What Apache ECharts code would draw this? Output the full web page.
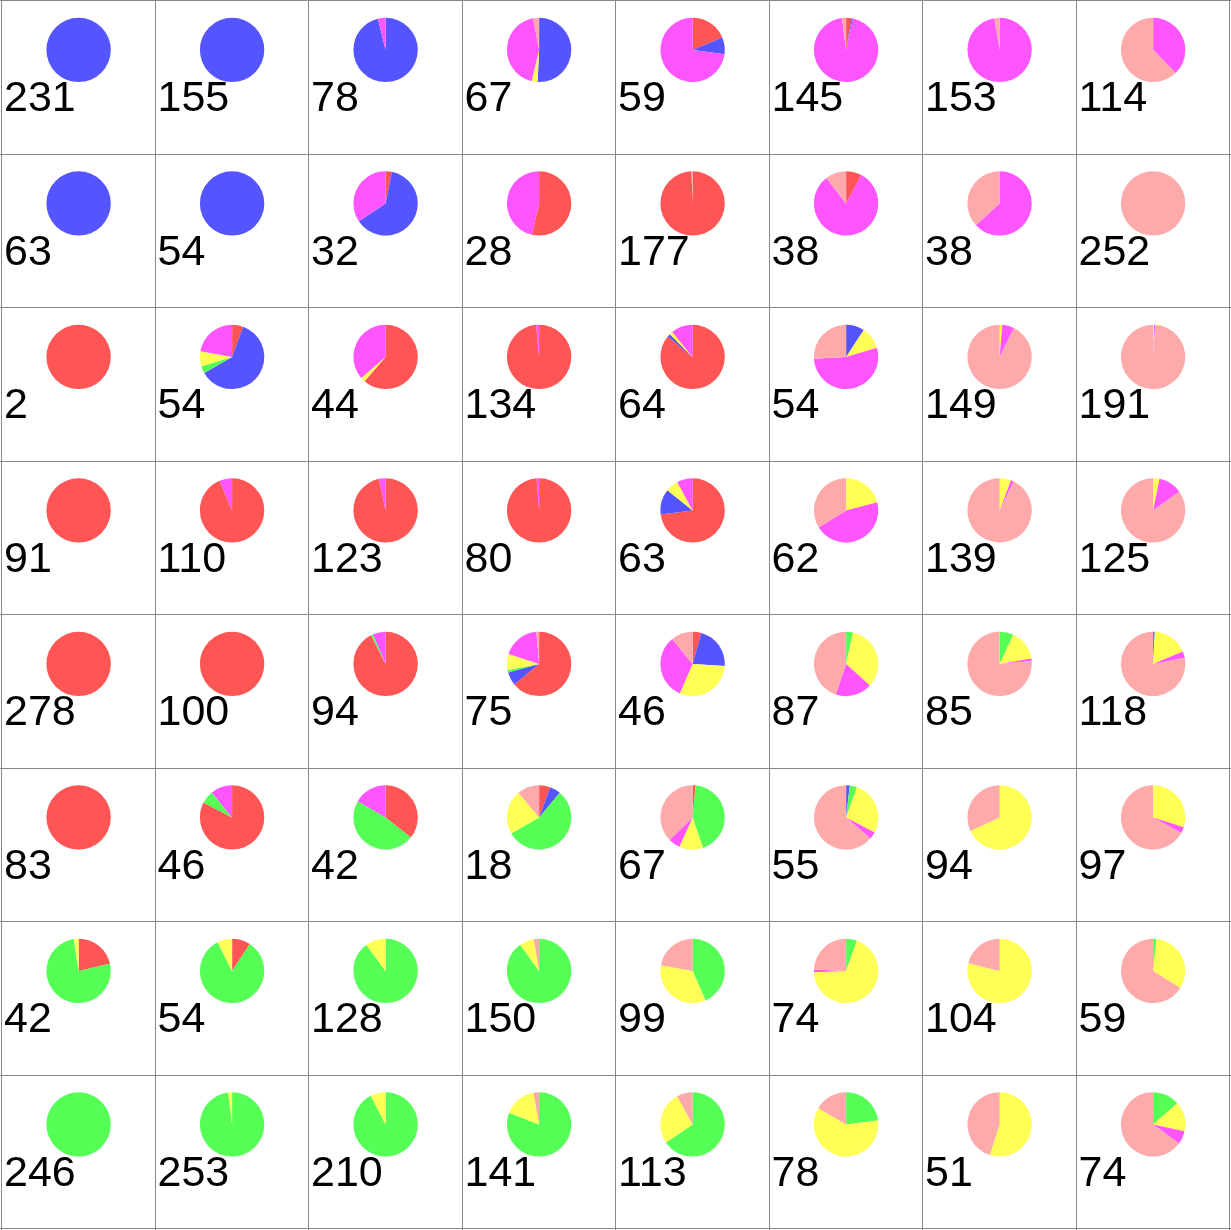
<!DOCTYPE html>
<html>
<head>
<meta charset="utf-8">
<script src="https://cdn.jsdelivr.net/npm/echarts@6/dist/echarts.min.js"></script>
<style>
  html, body { margin: 0; padding: 0; background: #ffffff; }
  #chart { width: 1231px; height: 1230px; }
</style>
</head>
<body>
<div id="chart"></div>
<script>
// Slice order (clockwise from 12 o'clock): red, blue, green, yellow, magenta, pink
const categories = ['red', 'blue', 'green', 'yellow', 'magenta', 'pink'];
const sliceColors = ['#ff5555', '#5555ff', '#55ff55', '#ffff55', '#ff55ff', '#ffaaaa'];

// 8x8 grid, row by row; each value is a count for that cell
const redVals = [
  [0, 0, 0, 0, 11, 4, 0, 0],
  [0, 0, 1, 15, 176, 3, 0, 0],
  [2, 3, 27, 132, 55, 0, 0, 0],
  [91, 103, 119, 79, 46, 0, 0, 0],
  [278, 100, 87, 48, 2, 0, 0, 0],
  [83, 38, 15, 1, 1, 0, 0, 0],
  [9, 5, 0, 0, 0, 0, 0, 0],
  [0, 0, 0, 0, 0, 0, 0, 0]
];
const blueVals = [
  [231, 155, 75, 34, 5, 1, 0, 0],
  [63, 54, 20, 0, 0, 0, 0, 0],
  [0, 33, 0, 0, 1, 5, 0, 0],
  [0, 0, 0, 0, 8, 0, 0, 0],
  [0, 0, 0, 5, 10, 0, 0, 1],
  [0, 0, 0, 1, 0, 1, 0, 0],
  [0, 0, 0, 0, 0, 0, 0, 0],
  [0, 0, 0, 0, 0, 0, 0, 0]
];
const greenVals = [
  [0, 0, 0, 0, 0, 0, 0, 0],
  [0, 0, 0, 0, 0, 0, 0, 0],
  [0, 2, 0, 0, 0, 0, 0, 0],
  [0, 0, 0, 0, 0, 0, 0, 0],
  [0, 0, 1, 1, 0, 3, 6, 0],
  [0, 3, 20, 10, 29, 2, 0, 0],
  [32, 45, 115, 135, 43, 4, 0, 1],
  [246, 248, 194, 114, 74, 18, 0, 10]
];
const yellowVals = [
  [0, 0, 0, 2, 0, 0, 0, 0],
  [0, 0, 0, 0, 0, 0, 0, 0],
  [0, 4, 1, 0, 1, 6, 2, 1],
  [0, 0, 0, 0, 4, 13, 8, 4],
  [0, 0, 0, 6, 14, 29, 13, 21],
  [0, 0, 0, 4, 8, 15, 64, 29],
  [1, 4, 13, 11, 34, 51, 82, 19],
  [0, 5, 16, 23, 30, 47, 28, 11]
];
const magentaVals = [
  [0, 0, 3, 29, 43, 137, 149, 43],
  [0, 0, 11, 13, 0, 31, 24, 0],
  [0, 12, 16, 2, 7, 29, 9, 1],
  [0, 7, 4, 1, 5, 28, 2, 15],
  [0, 0, 6, 14, 15, 16, 1, 4],
  [0, 5, 7, 0, 4, 2, 0, 3],
  [0, 0, 0, 0, 0, 1, 0, 0],
  [0, 0, 0, 0, 0, 0, 0, 5]
];
const pinkVals = [
  [0, 0, 0, 2, 0, 3, 4, 71],
  [0, 0, 0, 0, 1, 4, 14, 252],
  [0, 0, 0, 0, 0, 14, 138, 189],
  [0, 0, 0, 0, 0, 21, 129, 106],
  [0, 0, 0, 1, 5, 39, 65, 92],
  [0, 0, 0, 2, 25, 35, 30, 65],
  [0, 0, 0, 4, 22, 18, 22, 39],
  [0, 0, 0, 4, 9, 13, 23, 48]
];

const valueSets = [redVals, blueVals, greenVals, yellowVals, magentaVals, pinkVals];

const N = 8;
const step = 153.5;
const ox = 1, oy = 0.4;
const series = [];
const graphics = [];

for (let i = 0; i <= N; i++) {
  const x = Math.round(ox + i * step) + 0.5;
  const y = Math.round(oy + i * step) + 0.5;
  graphics.push({ type: 'line', silent: true, shape: { x1: x, y1: 0, x2: x, y2: 1230 }, style: { stroke: '#888888', lineWidth: 1 } });
  graphics.push({ type: 'line', silent: true, shape: { x1: 0, y1: y, x2: 1231, y2: y }, style: { stroke: '#888888', lineWidth: 1 } });
}

for (let r = 0; r < N; r++) {
  for (let c = 0; c < N; c++) {
    const x0 = ox + c * step;
    const y0 = oy + r * step;
    const data = categories.map((name, k) => ({
      name: name,
      value: valueSets[k][r][c],
      itemStyle: { color: sliceColors[k] }
    }));
    const total = data.reduce((s, d) => s + d.value, 0);
    series.push({
      type: 'pie',
      center: [x0 + 77.6, y0 + 49.5],
      radius: 32.2,
      startAngle: 90,
      clockwise: true,
      minAngle: 0,
      silent: true,
      animation: false,
      avoidLabelOverlap: false,
      label: { show: false },
      labelLine: { show: false },
      emphasis: { disabled: true },
      itemStyle: { borderWidth: 0 },
      data: data
    });
    graphics.push({
      type: 'text',
      silent: true,
      style: {
        text: String(total),
        x: x0 + 3,
        y: y0 + 120.5,
        font: '43px "Liberation Sans", Arial, sans-serif',
        fill: '#000000',
        textAlign: 'left',
        textVerticalAlign: 'bottom'
      }
    });
  }
}

const chart = echarts.init(document.getElementById('chart'), null, { renderer: 'canvas' });
chart.setOption({
  backgroundColor: '#ffffff',
  animation: false,
  series: series,
  graphic: graphics
});
</script>
</body>
</html>
